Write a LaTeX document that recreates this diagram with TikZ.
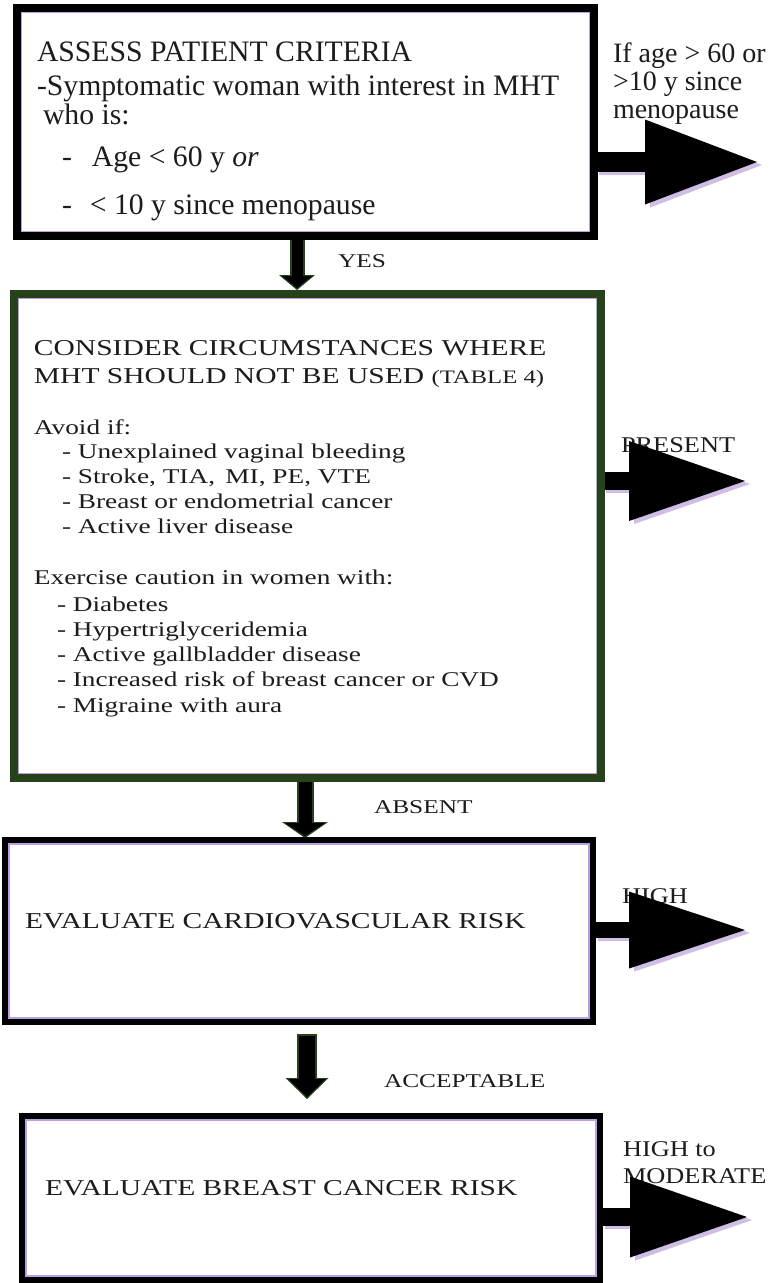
\documentclass[tikz,border=0pt]{standalone}
\usepackage{fontspec}
\setmainfont{Liberation Serif}
\newfontfamily\fwide[FakeStretch=1.3]{Liberation Serif}
\newfontfamily\fmid[FakeStretch=1.17]{Liberation Serif}
\usetikzlibrary{arrows.meta,calc}
\definecolor{dgreen}{RGB}{38,66,26}
\definecolor{lav}{RGB}{185,160,225}
\definecolor{shad}{RGB}{150,110,200}
\definecolor{ink}{RGB}{28,28,28}
\newcommand\fontBoxA{\fontsize{29.7}{34}\selectfont}
\newcommand\fontSideA{\fontsize{28}{32}\selectfont}
\newcommand\fontHead{\fwide\fontsize{22.7}{26}\selectfont}
\newcommand\fontTab{\fwide\fontsize{19}{22}\selectfont}
\newcommand\fontItem{\fwide\fontsize{21}{24}\selectfont}
\newcommand\fontLab{\fwide\fontsize{19.5}{22}\selectfont}
\newcommand\fontSide{\fmid\fontsize{22.5}{26}\selectfont}
\tikzset{
  box/.style={draw, inner sep=0pt, outer sep=0pt, anchor=north west},
  txt/.style={inner sep=0pt, outer sep=0pt, anchor=base west, text=ink},
  lavline/.style={draw=lav, line width=1.4pt},
  shadowcopy/.style={shad, opacity=0.45, transform canvas={xshift=5pt, yshift=-3pt}},
}
\begin{document}
\begin{tikzpicture}[x=1pt,y=-1pt]
\useasboundingbox (0,0) rectangle (771,1283);
\fill[white] (0,0) rectangle (771,1283);

% side labels
\node[txt,font=\fontSideA] (s1a) at (613,62) {If age > 60 or};
\node[txt,font=\fontSideA] (s1b) at (613,90) {>10 y since};
\node[txt,font=\fontSideA] (s1c) at (613,118) {menopause};
\node[txt,font=\fontSide] (s2) at (621,452) {PRESENT};
\node[txt,font=\fontSide] (s3) at (622,903) {HIGH};
\node[txt,font=\fontSide] (s4a) at (623,1156) {HIGH to};
\node[txt,font=\fontSide] (s4b) at (623,1183) {MODERATE};

% box nodes (geometry)
\node[box, line width=8pt, minimum width=577pt, minimum height=228pt] (b1) at (17,8) {};
\node[box, draw=dgreen, line width=8pt, minimum width=587pt, minimum height=484pt] (b2) at (14,294) {};
\node[box, line width=6.5pt, minimum width=588pt, minimum height=182pt] (b3) at (5,840) {};
\node[box, line width=6.5pt, minimum width=578pt, minimum height=164pt] (b4) at (22,1116) {};

% arrow end coordinates
\coordinate (r1) at (757,162);
\coordinate (r2) at (745,481);
\coordinate (r3) at (745,930);
\coordinate (r4) at (747,1217);
\coordinate (cy) at (297,290);
\coordinate (ca) at (305,838);
\coordinate (cc0) at (307,1034);
\coordinate (cc) at (307,1099);

% faint lavender shadows of right arrows
\draw[shadowcopy, line width=20pt, -{Triangle[length=112pt,width=85pt,line width=0pt]}] (b1.east |- r1) -- (r1);
\draw[shadowcopy, line width=18pt, -{Triangle[length=116pt,width=80pt,line width=0pt]}] (b2.east |- r2) -- (r2);
\draw[shadowcopy, line width=16pt, -{Triangle[length=116pt,width=77pt,line width=0pt]}] (b3.east |- r3) -- (r3);
\draw[shadowcopy, line width=18pt, -{Triangle[length=117pt,width=81pt,line width=0pt]}] (b4.east |- r4) -- (r4);

% right block arrows
\draw[black, line width=20pt, -{Triangle[length=112pt,width=85pt,line width=0pt]}] (b1.east |- r1) -- (r1);
\draw[black, line width=18pt, -{Triangle[length=116pt,width=80pt,line width=0pt]}] (b2.east |- r2) -- (r2);
\draw[black, line width=16pt, -{Triangle[length=116pt,width=77pt,line width=0pt]}] (b3.east |- r3) -- (r3);
\draw[black, line width=18pt, -{Triangle[length=117pt,width=81pt,line width=0pt]}] (b4.east |- r4) -- (r4);

% down block arrows (black with dark green outline)
\draw[dgreen, line width=15pt, -{Triangle[length=15pt,width=36pt,line width=0pt]}] (b1.south -| cy) -- (cy);
\draw[black, line width=11pt, -{Triangle[length=12pt,width=30pt,line width=0pt]}] (b1.south -| cy) -- ($(cy)+(0,-2)$);
\draw[dgreen, line width=17pt, -{Triangle[length=16pt,width=46pt,line width=0pt]}] (b2.south -| ca) -- (ca);
\draw[black, line width=13pt, -{Triangle[length=13pt,width=40pt,line width=0pt]}] (b2.south -| ca) -- ($(ca)+(0,-2)$);
\draw[dgreen, line width=20pt, -{Triangle[length=21pt,width=43pt,line width=0pt]}] (cc0) -- (cc);
\draw[black, line width=16pt, -{Triangle[length=18pt,width=37pt,line width=0pt]}] ($(cc0)+(0,2)$) -- ($(cc)+(0,-2)$);

% redraw boxes on top of arrow starts
\draw[black, line width=8pt] (b1.north west) rectangle (b1.south east);
\draw[dgreen, line width=8pt] (b2.north west) rectangle (b2.south east);
\draw[black, line width=6.5pt] (b3.north west) rectangle (b3.south east);
\draw[black, line width=6.5pt] (b4.north west) rectangle (b4.south east);

% thin lavender inner lines
\draw[lavline] ($(b1.north west)+(4.7,4.7)$) rectangle ($(b1.south east)+(-4.7,-4.7)$);
\draw[lavline] ($(b2.north west)+(4.7,4.7)$) rectangle ($(b2.south east)+(-4.7,-4.7)$);
\draw[lavline] ($(b3.north west)+(4,4)$) rectangle ($(b3.south east)+(-4,-4)$);
\draw[lavline] ($(b4.north west)+(4,4)$) rectangle ($(b4.south east)+(-4,-4)$);

% flow labels
\node[txt,font=\fontLab] (lyes) at (338,267) {YES};
\node[txt,font=\fontLab] (labs) at (374,813) {ABSENT};
\node[txt,font=\fontLab] (lacc) at (384,1087) {ACCEPTABLE};

% box 1 text
\node[txt,font=\fontBoxA] (t1a) at (37,61) {ASSESS PATIENT CRITERIA};
\node[txt,font=\fontBoxA] (t1b) at (37,95) {-Symptomatic woman with interest in MHT};
\node[txt,font=\fontBoxA] (t1c) at (43,124) {who is:};
\node[txt,font=\fontBoxA] (t1d) at (62,166) {-\hspace{20pt}Age < 60 y \textit{or}};
\node[txt,font=\fontBoxA] (t1e) at (62,214) {-\hspace{18pt}< 10 y since menopause};

% box 2 text
\node[txt,font=\fontHead] (t2a) at (34,355) {CONSIDER CIRCUMSTANCES WHERE};
\node[txt,font=\fontHead] (t2b) at (34,383) {MHT SHOULD NOT BE USED {\fontTab(TABLE 4)}};
\node[txt,font=\fontItem] (t2c) at (34,434) {Avoid if:};
\node[txt,font=\fontItem] (t2d) at (62,458) {- Unexplained vaginal bleeding};
\node[txt,font=\fontItem] (t2e) at (62,483) {- Stroke, TIA,\, MI, PE, VTE};
\node[txt,font=\fontItem] (t2f) at (62,508) {- Breast or endometrial cancer};
\node[txt,font=\fontItem] (t2g) at (62,533) {- Active liver disease};
\node[txt,font=\fontItem] (t2h) at (34,584) {Exercise caution in women with:};
\node[txt,font=\fontItem] (t2i) at (57,611) {- Diabetes};
\node[txt,font=\fontItem] (t2j) at (57,636) {- Hypertriglyceridemia};
\node[txt,font=\fontItem] (t2k) at (57,661) {- Active gallbladder disease};
\node[txt,font=\fontItem] (t2l) at (57,686) {- Increased risk of breast cancer or CVD};
\node[txt,font=\fontItem] (t2m) at (57,712) {- Migraine with aura};

% box 3 and 4 text
\node[txt,font=\fontHead] (t3) at (25,928) {EVALUATE CARDIOVASCULAR RISK};
\node[txt,font=\fontHead] (t4) at (45,1195) {EVALUATE BREAST CANCER RISK};
\end{tikzpicture}
\end{document}
